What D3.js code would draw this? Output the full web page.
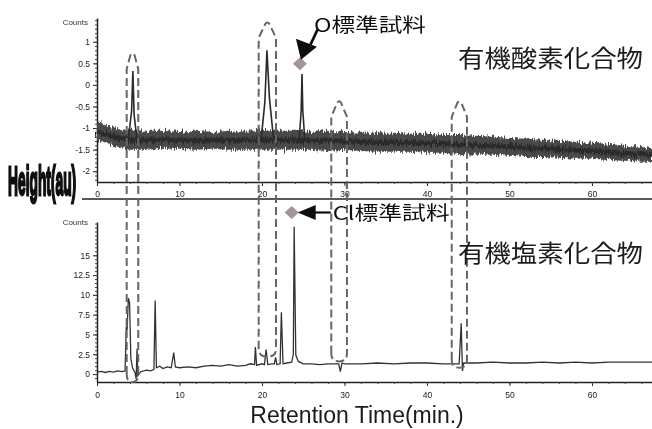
<!DOCTYPE html>
<html><head><meta charset="utf-8">
<script src="https://cdn.jsdelivr.net/npm/d3@7"></script>
<style>html,body{margin:0;padding:0;background:#fff;} svg{display:block}</style>
</head><body>
<svg id="c" width="652" height="429"></svg>
<script>
// ---------------- data ----------------
const xTicks = [0, 10, 20, 30, 40, 50, 60];
const topYTicks = [-2, -1.5, -1, -0.5, 0, 0.5, 1];
const topYLabels = ["-2", "-1.5", "-1", "-0.5", "0", "0.5", "1"];
const botYTicks = [0, 2.5, 5, 7.5, 10, 12.5, 15];
const botYLabels = ["0", "2.5", "5", "7.5", "10", "12.5", "15"];

// top chromatogram (organic oxygen compounds): noisy baseline envelope
const topBandT  = [0, 1, 2, 3, 4, 6, 8, 10, 12, 14, 16, 18, 20, 22, 24, 26, 28, 30, 32, 34, 36, 38, 40, 42, 44, 46, 48, 50, 52, 54, 56, 58, 60, 62, 64, 66, 67.4];
const topBandHi = [-0.86, -0.93, -0.97, -1.02, -1.04, -1.06, -1.06, -1.09, -1.06, -1.09, -1.06, -1.06, -1.04, -1.06, -1.06, -1.09, -1.06, -1.09, -1.11, -1.11, -1.11, -1.13, -1.13, -1.16, -1.16, -1.18, -1.20, -1.23, -1.25, -1.27, -1.30, -1.32, -1.34, -1.37, -1.41, -1.44, -1.46];
const topBandLo = [-1.27, -1.34, -1.41, -1.46, -1.50, -1.50, -1.48, -1.48, -1.50, -1.48, -1.50, -1.50, -1.50, -1.50, -1.50, -1.50, -1.53, -1.50, -1.53, -1.55, -1.55, -1.55, -1.57, -1.57, -1.60, -1.62, -1.62, -1.64, -1.67, -1.67, -1.69, -1.71, -1.71, -1.74, -1.76, -1.78, -1.78];
// top peaks
const topPeaks = [
  { t: [3.8, 4.2, 4.35, 4.5, 4.9],       v: [-1.25, -0.6, 0.32, -0.7, -1.35] },
  { t: [19.9, 20.35, 20.6, 20.9, 21.4],  v: [-1.25, -0.4, 0.80, -0.3, -1.25] },
  { t: [24.5, 24.75, 24.85, 24.95, 25.2], v: [-1.30, -0.6, 0.25, -0.6, -1.30] }
];

// bottom chromatogram (organic chlorine compounds)
const botT = [0, 0.5, 1, 1.5, 2, 2.5, 3, 3.4, 3.55, 3.65, 3.8, 3.95, 4.1, 4.3, 4.6, 4.75, 4.85, 4.95, 5.3, 6, 6.5, 6.9, 7.05, 7.2, 7.6, 8, 8.5, 9, 9.3, 9.5, 10, 11, 12, 13, 14, 15, 16, 17, 18, 18.6, 19.1, 19.2, 19.35, 20, 20.3, 20.5, 20.7, 21.2, 21.5, 21.65, 21.8, 22.2, 22.35, 22.55, 23, 23.6, 23.8, 23.9, 24.1, 24.4, 25, 26, 27, 28, 29, 29.3, 29.5, 29.7, 30, 32, 34, 36, 38, 40, 42, 43.9, 44.15, 44.3, 44.45, 44.7, 46, 48, 50, 52, 54, 56, 58, 60, 62, 64, 66, 67.4];
const botV = [0.25, 0.35, 0.2, 0.35, 0.25, 0.4, 0.3, 0.4, 6.0, 5.6, 9.6, 9.0, 2.0, 0.8, 0.2, -0.6, 3.2, -0.2, 0.3, 0.5, 0.4, 0.6, 9.3, 0.8, 1.0, 0.7, 0.9, 0.8, 2.7, 0.9, 0.8, 0.9, 0.8, 1.0, 1.1, 1.0, 1.2, 1.0, 1.1, 1.3, 1.2, 3.4, 1.1, 1.3, 1.2, 3.1, 1.2, 1.3, 1.3, 2.1, 1.2, 1.3, 7.8, 1.3, 1.4, 1.5, 2.5, 18.6, 2.4, 1.6, 1.3, 1.3, 1.2, 1.3, 1.3, 1.3, 0.3, 1.4, 1.3, 1.3, 1.4, 1.3, 1.4, 1.4, 1.3, 1.3, 6.4, 0.4, 1.4, 1.4, 1.4, 1.5, 1.4, 1.4, 1.5, 1.4, 1.5, 1.4, 1.5, 1.5, 1.5, 1.5];

// dashed loops linking peaks across both panels
const loopLeftT   = [3.6, 19.6, 28.4, 43.0];
const loopRightT  = [5.0, 21.7, 30.3, 44.85];
const loopTopV    = [0.74, 1.46, -0.37, -0.37];   // on the top-panel scale
const loopBottomV = [-1.0, 2.2, 1.6, 0.8];        // on the bottom-panel scale

// standard-sample markers
const oStdT = 24.6, oStdV = 0.49;
const clStdT = 23.6, clStdV = 20.4;

// ---------------- drawing ----------------
const svg = d3.select("#c");
const defs = svg.append("defs");
const blur = defs.append("filter").attr("id", "soft").attr("x", "-5%").attr("y", "-5%").attr("width", "110%").attr("height", "110%");
blur.append("feGaussianBlur").attr("stdDeviation", 0.45);
const rough = defs.append("filter").attr("id", "rough").attr("x", "-5%").attr("y", "-50%").attr("width", "110%").attr("height", "200%");
rough.append("feTurbulence").attr("type", "fractalNoise").attr("baseFrequency", "0.9 0.08").attr("numOctaves", 2).attr("seed", 3).attr("result", "n");
rough.append("feDisplacementMap").attr("in", "SourceGraphic").attr("in2", "n").attr("scale", 9).attr("xChannelSelector", "R").attr("yChannelSelector", "G").attr("result", "d");
rough.append("feGaussianBlur").attr("in", "d").attr("stdDeviation", 0.4);

const g = svg.append("g").attr("filter", "url(#soft)");

const x = d3.scaleLinear().domain([0, 67.4]).range([97, 653]);
const yTop = d3.scaleLinear().domain([-2.25, 1.55]).range([182, 18]);
const yBot = d3.scaleLinear().domain([-1, 19.2]).range([382, 222]);

const tickFont = "Liberation Sans, Arial, sans-serif";

function styleAxis(sel) {
  sel.select(".domain").attr("stroke", "#222").attr("stroke-width", 1.5);
  sel.selectAll(".tick line").attr("stroke", "#222");
  sel.selectAll(".tick text").attr("fill", "#222").attr("font-size", 8.5).attr("font-family", tickFont);
}

// axes top
const yTopAxis = g.append("g").attr("transform", "translate(97,0)")
  .call(d3.axisLeft(yTop).tickValues(topYTicks).tickFormat((d, i) => topYLabels[i]).tickSize(4).tickSizeOuter(0));
styleAxis(yTopAxis);
g.append("g").attr("transform", "translate(97,0)")
  .call(d3.axisLeft(yTop).tickValues(d3.range(-2.2, 1.51, 0.1)).tickFormat("").tickSize(2).tickSizeOuter(0))
  .call(s => { s.select(".domain").remove(); s.selectAll("line").attr("stroke", "#444"); });
const xTopAxis = g.append("g").attr("transform", "translate(0,182)")
  .call(d3.axisBottom(x).tickValues(xTicks).tickSize(4).tickSizeOuter(0));
styleAxis(xTopAxis);
xTopAxis.selectAll(".tick text").attr("dy", "0.9em");
g.append("g").attr("transform", "translate(0,182)")
  .call(d3.axisBottom(x).tickValues(d3.range(2, 67, 2)).tickFormat("").tickSize(2).tickSizeOuter(0))
  .call(s => { s.select(".domain").remove(); s.selectAll("line").attr("stroke", "#444"); });
g.append("text").attr("x", 88).attr("y", yTop(1.38)).attr("text-anchor", "end")
  .attr("font-size", 8).attr("font-family", tickFont).attr("fill", "#333").text("Counts");

// separator
g.append("line").attr("x1", 82).attr("x2", 652).attr("y1", 199).attr("y2", 199).attr("stroke", "#222").attr("stroke-width", 1.5);

// axes bottom
const yBotAxis = g.append("g").attr("transform", "translate(97,0)")
  .call(d3.axisLeft(yBot).tickValues(botYTicks).tickFormat((d, i) => botYLabels[i]).tickSize(4).tickSizeOuter(0));
styleAxis(yBotAxis);
g.append("g").attr("transform", "translate(97,0)")
  .call(d3.axisLeft(yBot).tickValues(d3.range(-0.5, 19.1, 0.5)).tickFormat("").tickSize(2).tickSizeOuter(0))
  .call(s => { s.select(".domain").remove(); s.selectAll("line").attr("stroke", "#444"); });
const xBotAxis = g.append("g").attr("transform", "translate(0,382)")
  .call(d3.axisBottom(x).tickValues(xTicks).tickSize(4).tickSizeOuter(0));
styleAxis(xBotAxis);
xBotAxis.selectAll(".tick text").attr("dy", "1.1em");
g.append("g").attr("transform", "translate(0,382)")
  .call(d3.axisBottom(x).tickValues(d3.range(2, 67, 2)).tickFormat("").tickSize(2).tickSizeOuter(0))
  .call(s => { s.select(".domain").remove(); s.selectAll("line").attr("stroke", "#444"); });
g.append("text").attr("x", 88).attr("y", yBot(18.8)).attr("text-anchor", "end")
  .attr("font-size", 8).attr("font-family", tickFont).attr("fill", "#333").text("Counts");

// top noisy band
const band = d3.area().x((d, i) => x(topBandT[i])).y0((d, i) => yTop(topBandLo[i])).y1((d, i) => yTop(topBandHi[i]));
g.append("path").datum(topBandT).attr("d", band).attr("fill", "#4a4a4a").attr("filter", "url(#rough)");
const mid = d3.line().x((d, i) => x(topBandT[i])).y((d, i) => yTop((topBandHi[i] + topBandLo[i]) / 2));
g.append("path").datum(topBandT).attr("d", mid).attr("fill", "none").attr("stroke", "#2a2a2a").attr("stroke-width", 5).attr("filter", "url(#rough)");

// top peaks
const pk = d3.line().x(d => x(d[0])).y(d => yTop(d[1]));
topPeaks.forEach(p => {
  g.append("path").datum(p.t.map((t, i) => [t, p.v[i]])).attr("d", pk)
    .attr("fill", "none").attr("stroke", "#2a2a2a").attr("stroke-width", 1.6);
});

// bottom trace
const bl = d3.line().x((d, i) => x(botT[i])).y((d, i) => yBot(botV[i]));
g.append("path").datum(botT).attr("d", bl).attr("fill", "none").attr("stroke", "#333").attr("stroke-width", 1.3);

// dashed loops
loopLeftT.forEach((lt, i) => {
  const xl = x(lt), xr = x(loopRightT[i]), xc = (xl + xr) / 2;
  const yt = yTop(loopTopV[i]), yb = yBot(loopBottomV[i]);
  const p = d3.path();
  p.moveTo(xl, yb - 8);
  p.lineTo(xl, yt + 16);
  p.lineTo(xc - 2, yt + 2);
  p.quadraticCurveTo(xc, yt - 1, xc + 2, yt + 2);
  p.lineTo(xr, yt + 16);
  p.lineTo(xr, yb - 8);
  p.quadraticCurveTo(xr, yb, xc, yb);
  p.quadraticCurveTo(xl, yb, xl, yb - 8);
  g.append("path").attr("d", p.toString()).attr("fill", "none")
    .attr("stroke", "#666").attr("stroke-width", 2).attr("stroke-dasharray", "8,4");
});

// markers
function diamond(cx, cy) {
  g.append("path").attr("d", `M${cx},${cy - 6.5}L${cx + 7},${cy}L${cx},${cy + 6.5}L${cx - 7},${cy}Z`).attr("fill", "#a39595");
}
const ox = x(oStdT), oy = yTop(oStdV);
diamond(ox, oy);
// arrow to O marker
g.append("line").attr("x1", ox + 18).attr("y1", oy - 35).attr("x2", ox + 10).attr("y2", oy - 18).attr("stroke", "#111").attr("stroke-width", 2.8);
g.append("path").attr("d", `M${ox + 1},${oy - 4}L${ox - 4},${oy - 25}L${ox + 17},${oy - 17}Z`).attr("fill", "#111");
g.append("text").attr("x", ox + 14).attr("y", oy - 32).attr("font-family", "Noto Sans CJK JP").attr("font-size", 19)
  .attr("fill", "#111").attr("textLength", 112).attr("lengthAdjust", "spacingAndGlyphs").text("O標準試料");

const cx = x(clStdT), cy = yBot(clStdV);
diamond(cx, cy);
g.append("line").attr("x1", cx + 20).attr("y1", cy).attr("x2", cx + 39).attr("y2", cy).attr("stroke", "#111").attr("stroke-width", 2.2);
g.append("path").attr("d", `M${cx + 6},${cy}L${cx + 24},${cy - 7.5}L${cx + 24},${cy + 7.5}Z`).attr("fill", "#111");
g.append("text").attr("x", cx + 41).attr("y", cy + 8).attr("font-family", "Noto Sans CJK JP").attr("font-size", 19)
  .attr("fill", "#111").attr("textLength", 117).attr("lengthAdjust", "spacingAndGlyphs").text("Cl標準試料");

// panel titles
g.append("text").attr("x", 458).attr("y", 67).attr("font-family", "Noto Sans CJK JP").attr("font-size", 24)
  .attr("fill", "#1a1a1a").attr("textLength", 185).attr("lengthAdjust", "spacingAndGlyphs").text("有機酸素化合物");
g.append("text").attr("x", 458).attr("y", 262).attr("font-family", "Noto Sans CJK JP").attr("font-size", 24)
  .attr("fill", "#1a1a1a").attr("textLength", 185).attr("lengthAdjust", "spacingAndGlyphs").text("有機塩素化合物");

// x title
g.append("text").attr("x", 357).attr("y", 423).attr("text-anchor", "middle").attr("font-family", tickFont)
  .attr("font-size", 23).attr("fill", "#1a1a1a").text("Retention Time(min.)");

// y title (overprinted in the original scan): small font, stretched tall and narrow
g.append("text").attr("transform", "translate(8,195) scale(0.6,1.75)")
  .attr("font-family", "Liberation Sans, sans-serif").attr("font-weight", "bold")
  .attr("font-size", 23).attr("fill", "#111").attr("stroke", "#111").attr("stroke-width", 1.6)
  .text("Height(au)");
</script>
</body></html>
